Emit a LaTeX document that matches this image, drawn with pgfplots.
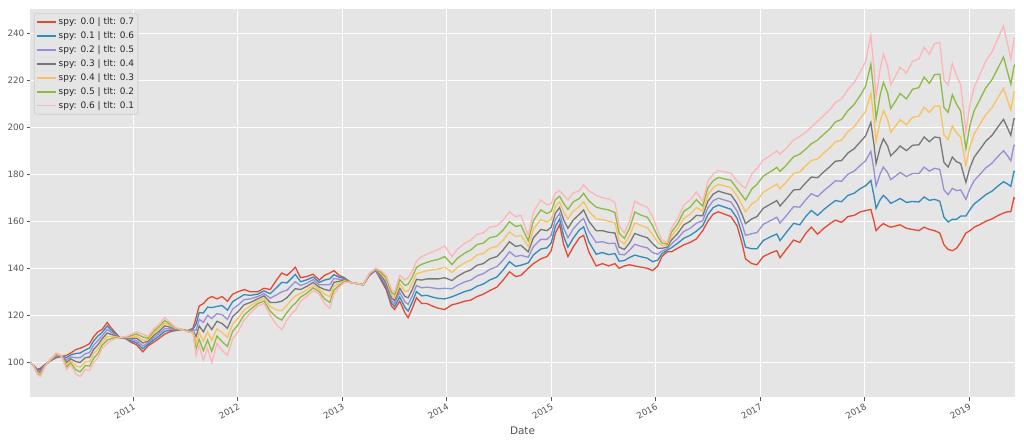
\documentclass[border=0pt]{standalone}
\usepackage{pgfplots}
\pgfplotsset{compat=1.18}
\usepackage{pgfplotstable}
\usepackage{fontspec}
\setmainfont{DejaVu Sans}
\definecolor{c0}{HTML}{E24A33}
\definecolor{c1}{HTML}{348ABD}
\definecolor{c2}{HTML}{988ED5}
\definecolor{c3}{HTML}{777777}
\definecolor{c4}{HTML}{FBC15E}
\definecolor{c5}{HTML}{8EBA42}
\definecolor{c6}{HTML}{FFB5B8}
\definecolor{bg}{HTML}{E5E5E5}
\definecolor{tickc}{HTML}{555555}
\definecolor{legedge}{HTML}{CCCCCC}

\pgfplotstableread{
t s0 s1 s2 s3 s4 s5 s6
2010.01 100 100 100 100 100 100 100
2010.04 99 99 99 99 99 99 99
2010.08 97 96.7 96.3 96.0 95.7 95.3 95
2010.11 97.5 96.9 96.3 95.8 95.2 94.6 94
2010.15 99 98.8 98.7 98.5 98.3 98.2 98
2010.20 100.5 100.6 100.7 100.8 100.8 100.9 101
2010.26 102 102.3 102.7 103 103.3 103.7 104
2010.31 102.5 102.6 102.7 102.8 102.8 102.9 103
2010.36 103 102 101 100 99 98 97
2010.40 104 103.2 102.3 101.5 100.7 99.8 99
2010.45 105.5 103.8 102 100.3 98.5 96.8 95
2010.49 106 104 102 100 98 96 94
2010.54 107 105.3 103.7 102 100.3 98.7 97
2010.58 108 106.1 104.2 102.3 100.3 98.4 96.5
2010.62 111 109.2 107.3 105.5 103.7 101.8 100
2010.66 113 111.2 109.3 107.5 105.7 103.8 102
2010.70 114 112.7 111.3 110 108.7 107.3 106
2010.75 117 115.5 114 112.5 111 109.5 108
2010.78 115 114 113 112 111 110 109
2010.82 113 112.5 112 111.5 111 110.5 110
2010.87 110.5 110.5 110.5 110.5 110.5 110.5 110.5
2010.93 110 110.2 110.3 110.5 110.7 110.8 111
2010.98 108.5 109.1 109.7 110.3 110.8 111.4 112
2011.03 107.5 108.4 109.3 110.3 111.2 112.1 113
2011.09 104.5 105.8 107 108.3 109.5 110.8 112
2011.14 107 107.7 108.3 109 109.7 110.3 111
2011.19 108.5 109.4 110.3 111.3 112.2 113.1 114
2011.24 110 111 112 113 114 115 116
2011.30 112 113.2 114.3 115.5 116.7 117.8 119
2011.35 113 113.7 114.3 115 115.7 116.3 117
2011.40 113.5 113.8 114 114.3 114.5 114.8 115
2011.46 114 114 114 114 114 114 114
2011.52 113.5 113.4 113.3 113.3 113.2 113.1 113
2011.57 114.5 114.2 113.8 113.5 113.2 112.8 112.5
2011.60 119 116.3 113.7 111 108.3 105.7 103
2011.63 124 121.2 118.3 115.5 112.7 109.8 107
2011.67 125 121 117 113 109 105 101
2011.71 127 123.5 120 116.5 113 109.5 106
2011.75 128 123.3 118.7 114 109.3 104.7 100
2011.80 127 123.8 120.7 117.5 114.3 111.2 108
2011.85 128 124.2 120.3 116.5 112.7 108.8 105
2011.90 126 122.2 118.3 114.5 110.7 106.8 103
2011.95 129 125.8 122.7 119.5 116.3 113.2 110
2012.00 130 127.2 124.3 121.5 118.7 115.8 113
2012.06 131 128.8 126.7 124.5 122.3 120.2 118
2012.12 130 128.5 127 125.5 124 122.5 121
2012.19 130 129 128 127 126 125 124
2012.25 131.5 130.4 129.3 128.3 127.2 126.1 125
2012.31 131 129.2 127.3 125.5 123.7 121.8 120
2012.37 135 131.8 128.7 125.5 122.3 119.2 116
2012.42 138 134 130 126 122 118 114
2012.47 137 133.8 130.7 127.5 124.3 121.2 118
2012.52 139 136 133 130 127 124 121
2012.55 140.5 137.4 134.3 131.3 128.2 125.1 122
2012.60 136 134.3 132.7 131 129.3 127.7 126
2012.66 136.5 135.1 133.7 132.3 130.8 129.4 128
2012.72 137.5 136.3 135.2 134 132.8 131.7 130.5
2012.78 135 134 133 132 131 130 129
2012.83 137 135 133 131 129 127 125
2012.88 138 135.5 133 130.5 128 125.5 123
2012.92 139 137.3 135.7 134 132.3 130.7 129
2012.97 137 136.2 135.3 134.5 133.7 132.8 132
2013.02 136 135.7 135.3 135 134.7 134.3 134
2013.08 134 134 134 134 134 134 134
2013.14 133.5 133.5 133.5 133.5 133.5 133.5 133.5
2013.20 133 133 133 133 133 133 133
2013.26 137 137.2 137.3 137.5 137.7 137.8 138
2013.32 139 139.2 139.3 139.5 139.7 139.8 140
2013.37 135 135.7 136.3 137 137.7 138.3 139
2013.42 131 132 133 134 135 136 137
2013.47 124 125.2 126.3 127.5 128.7 129.8 131
2013.50 122.5 123.8 125 126.3 127.5 128.8 130
2013.55 126 127.8 129.7 131.5 133.3 135.2 137
2013.60 121 123.3 125.7 128 130.3 132.7 135
2013.63 119 121.8 124.7 127.5 130.3 133.2 136
2013.67 123 125.7 128.3 131 133.7 136.3 139
2013.71 127.5 130.1 132.7 135.3 137.8 140.4 143
2013.76 125 128.3 131.7 135 138.3 141.7 145
2013.81 125 128.5 132 135.5 139 142.5 146
2013.86 124 127.8 131.7 135.5 139.3 143.2 147
2013.92 123 127.2 131.3 135.5 139.7 143.8 148
2013.98 122.5 127 131.5 136 140.5 145 149.5
2014.05 124.5 127.9 131.3 134.8 138.2 141.6 145
2014.10 125 128.8 132.7 136.5 140.3 144.2 148
2014.17 126 130.1 134.2 138.3 142.3 146.4 150.5
2014.23 126.5 130.8 135 139.3 143.5 147.8 152
2014.29 128 132.4 136.8 141.3 145.7 150.1 154.5
2014.35 129 133.3 137.7 142 146.3 150.7 155
2014.41 130.5 135 139.5 144 148.5 153 157.5
2014.48 132 136.3 140.7 145 149.3 153.7 158
2014.54 135 139.3 143.5 147.8 152 156.3 160.5
2014.60 138.5 142.8 147 151.3 155.5 159.8 164
2014.66 136.5 140.8 145 149.3 153.5 157.8 162
2014.71 137 141.3 145.5 149.8 154 158.3 162.5
2014.78 140 142.3 144.7 147 149.3 151.7 154
2014.83 142 145.7 149.3 153 156.7 160.3 164
2014.90 144 148.2 152.3 156.5 160.7 164.8 169
2014.96 145 148.7 152.3 156 159.7 163.3 167
2015.00 147.5 150.8 154.2 157.5 160.8 164.2 167.5
2015.04 155 157.8 160.7 163.5 166.3 169.2 172
2015.08 158.5 160.9 163.3 165.8 168.2 170.6 173
2015.12 150 153.5 157 160.5 164 167.5 171
2015.16 145 149 153 157 161 165 169
2015.21 149 152.8 156.7 160.5 164.3 168.2 172
2015.27 153 156.3 159.7 163 166.3 169.7 173
2015.31 154 157.6 161.2 164.8 168.3 171.9 175.5
2015.36 147 151.3 155.7 160 164.3 168.7 173
2015.43 141 146 151 156 161 166 171
2015.49 142 146.7 151.3 156 160.7 165.3 170
2015.55 141 145.8 150.5 155.3 160 164.8 169.5
2015.61 142 146.3 150.7 155 159.3 163.7 168
2015.65 140 143 146 149 152 155 158
2015.70 141 143.3 145.7 148 150.3 152.7 155
2015.75 141.5 144.6 147.7 150.8 153.8 156.9 160
2015.80 141 145.6 150.2 154.8 159.3 163.9 168.5
2015.86 140.5 144.9 149.3 153.8 158.2 162.6 167
2015.92 140 144.3 148.7 153 157.3 161.7 166
2015.97 139 142.8 146.7 150.5 154.3 158.2 162
2016.02 141 143.5 146 148.5 151 153.5 156
2016.06 145 146.2 147.3 148.5 149.7 150.8 152
2016.11 147 147.7 148.3 149 149.7 150.3 151
2016.15 147 148.7 150.3 152 153.7 155.3 157
2016.21 148.5 150.6 152.7 154.8 156.8 158.9 161
2016.27 150 152.8 155.7 158.5 161.3 164.2 167
2016.33 151 154 157 160 163 166 169
2016.39 152.5 155.8 159.2 162.5 165.8 169.2 172.5
2016.45 156 158.1 160.2 162.3 164.3 166.4 168.5
2016.50 160 162.8 165.7 168.5 171.3 174.2 177
2016.55 163 165.8 168.7 171.5 174.3 177.2 180
2016.60 164 166.9 169.8 172.8 175.7 178.6 181.5
2016.66 163 166 169 172 175 178 181
2016.72 162 165.1 168.2 171.3 174.3 177.4 180.5
2016.78 158 161.2 164.3 167.5 170.7 173.8 177
2016.83 150 154.2 158.3 162.5 166.7 170.8 175
2016.86 144 149 154 159 164 169 174
2016.92 142 148.3 154.7 161 167.3 173.7 180
2016.97 141.5 148.3 155.2 162 168.8 175.7 182.5
2017.03 145 151.8 158.7 165.5 172.3 179.2 186
2017.10 146.5 153.4 160.3 167.3 174.2 181.1 188
2017.16 147.5 154.6 161.7 168.8 175.8 182.9 190
2017.19 144.5 151.8 159.2 166.5 173.8 181.2 188.5
2017.25 148 155.2 162.3 169.5 176.7 183.8 191
2017.32 152 159.1 166.2 173.3 180.3 187.4 194.5
2017.38 151 158.5 166 173.5 181 188.5 196
2017.44 155 162.2 169.3 176.5 183.7 190.8 198
2017.49 157.5 164.6 171.7 178.8 185.8 192.9 200
2017.55 154.5 162.5 170.5 178.5 186.5 194.5 202.5
2017.61 157 165 173 181 189 197 205
2017.67 159 167.1 175.2 183.3 191.3 199.4 207.5
2017.72 160.5 168.8 177.2 185.5 193.8 202.2 210.5
2017.78 159.5 168.3 177 185.8 194.5 203.3 212
2017.84 162 171 180 189 198 207 216
2017.90 162.5 171.9 181.3 190.8 200.2 209.6 219
2017.96 164 173.9 183.8 193.8 203.7 213.6 223.5
2018.01 164.5 175.1 185.7 196.3 206.8 217.4 228
2018.06 165 177.3 189.7 202 214.3 226.7 239
2018.09 160 170.8 181.7 192.5 203.3 214.2 225
2018.11 156 165.5 175 184.5 194 203.5 213
2018.15 158 169.2 180.3 191.5 202.7 213.8 225
2018.18 159 171 183 195 207 219 231
2018.22 158 169.3 180.7 192 203.3 214.7 226
2018.25 157.5 167.6 177.7 187.8 197.8 207.9 218
2018.30 158 168.7 179.3 190 200.7 211.3 222
2018.34 158.5 169.7 180.8 192 203.2 214.3 225.5
2018.40 157 168 179 190 201 212 223
2018.46 156.5 168.4 180.3 192.3 204.2 216.1 228
2018.52 156 168.2 180.3 192.5 204.7 216.8 229
2018.57 157.5 170.3 183 195.8 208.5 221.3 234
2018.62 156.5 168.9 181.3 193.8 206.2 218.6 231
2018.67 156 169.3 182.5 195.8 209 222.3 235.5
2018.72 155 168.5 182 195.5 209 222.5 236
2018.76 150 161.7 173.3 185 196.7 208.3 220
2018.80 148 159.7 171.3 183 194.7 206.3 218
2018.84 147.5 160.8 174 187.3 200.5 213.8 227
2018.88 148.5 160.8 173 185.3 197.5 209.8 222
2018.92 151 162.2 173.3 184.5 195.7 206.8 218
2018.97 155 162.2 169.3 176.5 183.7 190.8 198
2019.01 156 165 174 183 192 201 210
2019.05 157.5 167.4 177.3 187.3 197.2 207.1 217
2019.10 158.5 169.1 179.7 190.3 200.8 211.4 222
2019.16 160 171.3 182.7 194 205.3 216.7 228
2019.22 161 172.8 184.7 196.5 208.3 220.2 232
2019.28 162.5 175.1 187.7 200.3 212.8 225.4 238
2019.33 163.5 176.8 190 203.3 216.5 229.8 243
2019.37 164 175.8 187.7 199.5 211.3 223.2 235
2019.40 164 174.8 185.7 196.5 207.3 218.2 229
2019.43 170 181.2 192.3 203.5 214.7 225.8 237
2019.44 169.5 180.9 192.3 203.8 215.2 226.6 238
}\data

\begin{document}
\begin{tikzpicture}
\begin{axis}[
  scale only axis,
  width=985bp, height=387.5bp,
  xmin=2010.01, xmax=2019.44,
  ymin=85.3, ymax=250,
  axis background/.style={fill=bg},
  axis line style={draw=none},
  grid=major,
  major grid style={white, line width=1bp},
  tick pos=left,
  tick align=outside,
  major tick length=3.5bp,
  tick style={tickc, line width=0.8bp},
  xtick={2011,2012,2013,2014,2015,2016,2017,2018,2019},
  ytick={100,120,140,160,180,200,220,240},
  /pgf/number format/assume math mode=true,
  /pgf/number format/1000 sep={},
  ticklabel style={font=\fontsize{8.8}{10}\selectfont, text=tickc},
  xticklabel style={rotate=30, anchor=north east, inner sep=1.5bp},
  yticklabel style={inner sep=2bp},
  xlabel={Date},
  xlabel style={font=\fontsize{10.5}{12}\selectfont, text=tickc, yshift=-2bp},
  legend cell align=left,
  legend image code/.code={\draw[#1, line width=1.5bp] (0bp,0bp) -- (19bp,0bp);},
  legend style={at={(0,1)}, anchor=north west, xshift=4bp, yshift=-3.8bp,
    draw=legedge, line width=0.6bp, fill=bg, rounded corners=2.5bp,
    font=\fontsize{9}{10}\selectfont, text=black!85,
    inner xsep=1.5bp, inner ysep=1.5bp,
    nodes={inner xsep=2.4bp, inner ysep=2.8bp}},
  every axis plot/.append style={line width=1.3bp},
]
\addplot[c0] table[x=t,y=s0]{\data};
\addlegendentry{spy: 0.0 | tlt: 0.7}
\addplot[c1] table[x=t,y=s1]{\data};
\addlegendentry{spy: 0.1 | tlt: 0.6}
\addplot[c2] table[x=t,y=s2]{\data};
\addlegendentry{spy: 0.2 | tlt: 0.5}
\addplot[c3] table[x=t,y=s3]{\data};
\addlegendentry{spy: 0.3 | tlt: 0.4}
\addplot[c4] table[x=t,y=s4]{\data};
\addlegendentry{spy: 0.4 | tlt: 0.3}
\addplot[c5] table[x=t,y=s5]{\data};
\addlegendentry{spy: 0.5 | tlt: 0.2}
\addplot[c6] table[x=t,y=s6]{\data};
\addlegendentry{spy: 0.6 | tlt: 0.1}
\end{axis}
\pgfresetboundingbox
\path ([xshift=-30bp,yshift=-47bp]current axis.south west) rectangle ([xshift=9bp,yshift=9.5bp]current axis.north east);
\end{tikzpicture}
\end{document}
